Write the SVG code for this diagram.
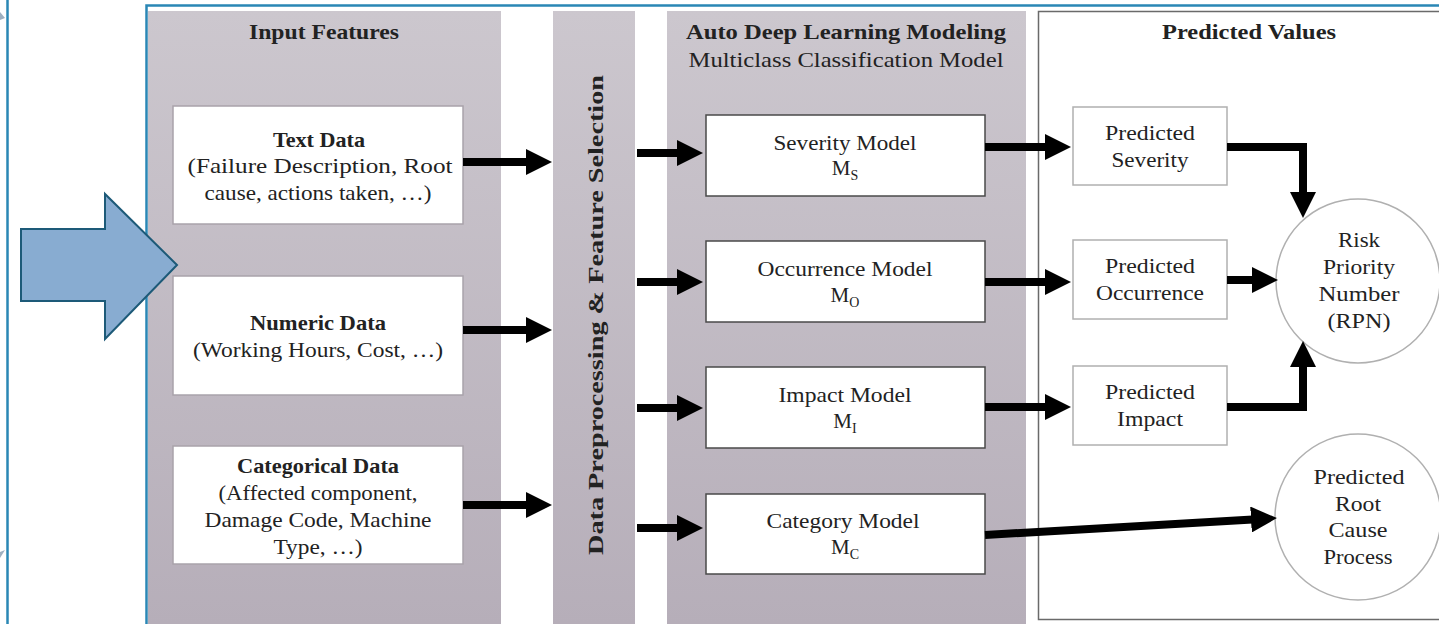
<svg xmlns="http://www.w3.org/2000/svg" width="1439" height="624" viewBox="0 0 1439 624">
<defs>
<linearGradient id="panelGrad" x1="0" y1="0" x2="0" y2="1">
<stop offset="0" stop-color="#ccc7ce"/>
<stop offset="1" stop-color="#b6aeb9"/>
</linearGradient>
<marker id="ah" viewBox="0 0 26 26" refX="6" refY="13" markerWidth="26" markerHeight="26" markerUnits="userSpaceOnUse" orient="auto">
<path d="M0,0 L26,13 L0,26 Z" fill="#000"/>
</marker>
</defs>
<style>
text{font-family:"Liberation Serif","Times New Roman",serif;fill:#222;}
.t{font-size:21px;text-anchor:middle;}
.b{font-size:21px;font-weight:bold;text-anchor:middle;}
.h{font-size:22px;font-weight:bold;text-anchor:middle;}
.sub{font-size:14px;}
.panel{fill:url(#panelGrad);}
.ibox{fill:#fff;stroke:#a9a3ab;stroke-width:1.5;}
.mbox{fill:#fff;stroke:#4a4a4a;stroke-width:1.5;}
.pbox{fill:#fff;stroke:#b0b0b0;stroke-width:1.5;}
.circ{fill:#fff;stroke:#b0b0b0;stroke-width:1.5;}
.arr{fill:none;stroke:#000;stroke-width:8;marker-end:url(#ah);stroke-linejoin:miter;}
</style>
<rect width="1439" height="624" fill="#fff"/>

<g id="input-features">
<rect class="panel" x="148" y="11" width="353" height="613"/>
<text class="h" x="324" y="39" textLength="150" lengthAdjust="spacingAndGlyphs">Input Features</text>
</g>
<g id="text-data">
<rect class="ibox" x="173" y="106" width="290" height="118"/>
<text class="b" x="319" y="147" textLength="92" lengthAdjust="spacingAndGlyphs">Text Data</text>
<text class="t" x="320" y="173" textLength="265" lengthAdjust="spacingAndGlyphs">(Failure Description, Root</text>
<text class="t" x="318" y="200" textLength="227" lengthAdjust="spacingAndGlyphs">cause, actions taken, …)</text>
</g>
<g id="numeric-data">
<rect class="ibox" x="173" y="276" width="290" height="119"/>
<text class="b" x="318" y="330" textLength="136" lengthAdjust="spacingAndGlyphs">Numeric Data</text>
<text class="t" x="318" y="357" textLength="250" lengthAdjust="spacingAndGlyphs">(Working Hours, Cost, …)</text>
</g>
<g id="categorical-data">
<rect class="ibox" x="173" y="446" width="290" height="118"/>
<text class="b" x="318" y="473" textLength="162" lengthAdjust="spacingAndGlyphs">Categorical Data</text>
<text class="t" x="318" y="500" textLength="199" lengthAdjust="spacingAndGlyphs">(Affected component,</text>
<text class="t" x="318" y="527" textLength="227" lengthAdjust="spacingAndGlyphs">Damage Code, Machine</text>
<text class="t" x="318" y="554" textLength="89" lengthAdjust="spacingAndGlyphs">Type, …)</text>
</g>

<g id="preprocessing">
<rect class="panel" x="553" y="11" width="82" height="613"/>
<text class="h" transform="translate(603,315) rotate(-90)" x="0" y="0" textLength="480" lengthAdjust="spacingAndGlyphs">Data Preprocessing &amp; Feature Selection</text>
</g>

<g id="modeling">
<rect class="panel" x="667" y="11" width="359" height="613"/>
<text class="h" x="846" y="39" textLength="320" lengthAdjust="spacingAndGlyphs">Auto Deep Learning Modeling</text>
<text class="t" x="846" y="67" textLength="315" lengthAdjust="spacingAndGlyphs">Multiclass Classification Model</text>
</g>
<g id="severity-model">
<rect class="mbox" x="706" y="115" width="279" height="81"/>
<text class="t" x="845" y="150" textLength="143" lengthAdjust="spacingAndGlyphs">Severity Model</text>
<text class="t" x="845" y="175">M<tspan class="sub" dy="5">S</tspan></text>
</g>
<g id="occurrence-model">
<rect class="mbox" x="706" y="241" width="279" height="81"/>
<text class="t" x="845" y="276" textLength="175" lengthAdjust="spacingAndGlyphs">Occurrence Model</text>
<text class="t" x="845" y="302">M<tspan class="sub" dy="5">O</tspan></text>
</g>
<g id="impact-model">
<rect class="mbox" x="706" y="367" width="279" height="81"/>
<text class="t" x="845" y="402" textLength="133" lengthAdjust="spacingAndGlyphs">Impact Model</text>
<text class="t" x="845" y="428">M<tspan class="sub" dy="5">I</tspan></text>
</g>
<g id="category-model">
<rect class="mbox" x="706" y="494" width="279" height="80"/>
<text class="t" x="843" y="528" textLength="153" lengthAdjust="spacingAndGlyphs">Category Model</text>
<text class="t" x="845" y="554">M<tspan class="sub" dy="5">C</tspan></text>
</g>

<g id="predicted-values">
<rect x="1038.5" y="11.5" width="410" height="608" fill="#fff" stroke="#6a6a6a" stroke-width="1.5"/>
<text class="h" x="1249" y="39" textLength="174" lengthAdjust="spacingAndGlyphs">Predicted Values</text>
</g>
<g id="predicted-severity">
<rect class="pbox" x="1073" y="107" width="154" height="78"/>
<text class="t" x="1150" y="140" textLength="90" lengthAdjust="spacingAndGlyphs">Predicted</text>
<text class="t" x="1150" y="167" textLength="77" lengthAdjust="spacingAndGlyphs">Severity</text>
</g>
<g id="predicted-occurrence">
<rect class="pbox" x="1073" y="240" width="154" height="79"/>
<text class="t" x="1150" y="273" textLength="90" lengthAdjust="spacingAndGlyphs">Predicted</text>
<text class="t" x="1150" y="300" textLength="108" lengthAdjust="spacingAndGlyphs">Occurrence</text>
</g>
<g id="predicted-impact">
<rect class="pbox" x="1073" y="366" width="154" height="79"/>
<text class="t" x="1150" y="399" textLength="90" lengthAdjust="spacingAndGlyphs">Predicted</text>
<text class="t" x="1150" y="426" textLength="66" lengthAdjust="spacingAndGlyphs">Impact</text>
</g>
<g id="rpn">
<circle class="circ" cx="1358" cy="281" r="82"/>
<text class="t" x="1359" y="247" textLength="42" lengthAdjust="spacingAndGlyphs">Risk</text>
<text class="t" x="1359" y="274" textLength="72" lengthAdjust="spacingAndGlyphs">Priority</text>
<text class="t" x="1359" y="301" textLength="81" lengthAdjust="spacingAndGlyphs">Number</text>
<text class="t" x="1359" y="328" textLength="63" lengthAdjust="spacingAndGlyphs">(RPN)</text>
</g>
<g id="root-cause">
<circle class="circ" cx="1358" cy="517" r="83"/>
<text class="t" x="1359" y="484" textLength="91" lengthAdjust="spacingAndGlyphs">Predicted</text>
<text class="t" x="1358" y="511" textLength="46" lengthAdjust="spacingAndGlyphs">Root</text>
<text class="t" x="1358" y="537" textLength="59" lengthAdjust="spacingAndGlyphs">Cause</text>
<text class="t" x="1358" y="564" textLength="69" lengthAdjust="spacingAndGlyphs">Process</text>
</g>

<g id="connectors">
<path class="arr" d="M463,162 H532"/>
<path class="arr" d="M463,330 H532"/>
<path class="arr" d="M463,505 H532"/>
<path class="arr" d="M637,153 H683"/>
<path class="arr" d="M637,282 H683"/>
<path class="arr" d="M637,408 H683"/>
<path class="arr" d="M637,528 H683"/>
<path class="arr" d="M985,147 H1051"/>
<path class="arr" d="M985,282 H1051"/>
<path class="arr" d="M985,407 H1051"/>
<path class="arr" d="M1227,147 H1303 V198"/>
<path class="arr" d="M1227,280 H1258"/>
<path class="arr" d="M1227,407 H1303 V361"/>
<path class="arr" d="M985,535 L1257,519.2"/>
</g>

<g id="frame">
<line x1="7.5" y1="0" x2="7.5" y2="624" stroke="#2a87b5" stroke-width="2.5"/>
<path d="M146.5,624 V5.5 H1439" fill="none" stroke="#2a87b5" stroke-width="2.5"/>
<polygon points="0,12 5,18 0,20" fill="#9fb0c0"/>
<polygon points="0,552 5,550 0,558" fill="#9fb0c0"/>
</g>

<g id="big-arrow">
<polygon points="21,229 105,229 105,194 177,265 105,339 105,301 21,301" fill="#88acd1" stroke="#1d5a78" stroke-width="2"/>
</g>
</svg>
